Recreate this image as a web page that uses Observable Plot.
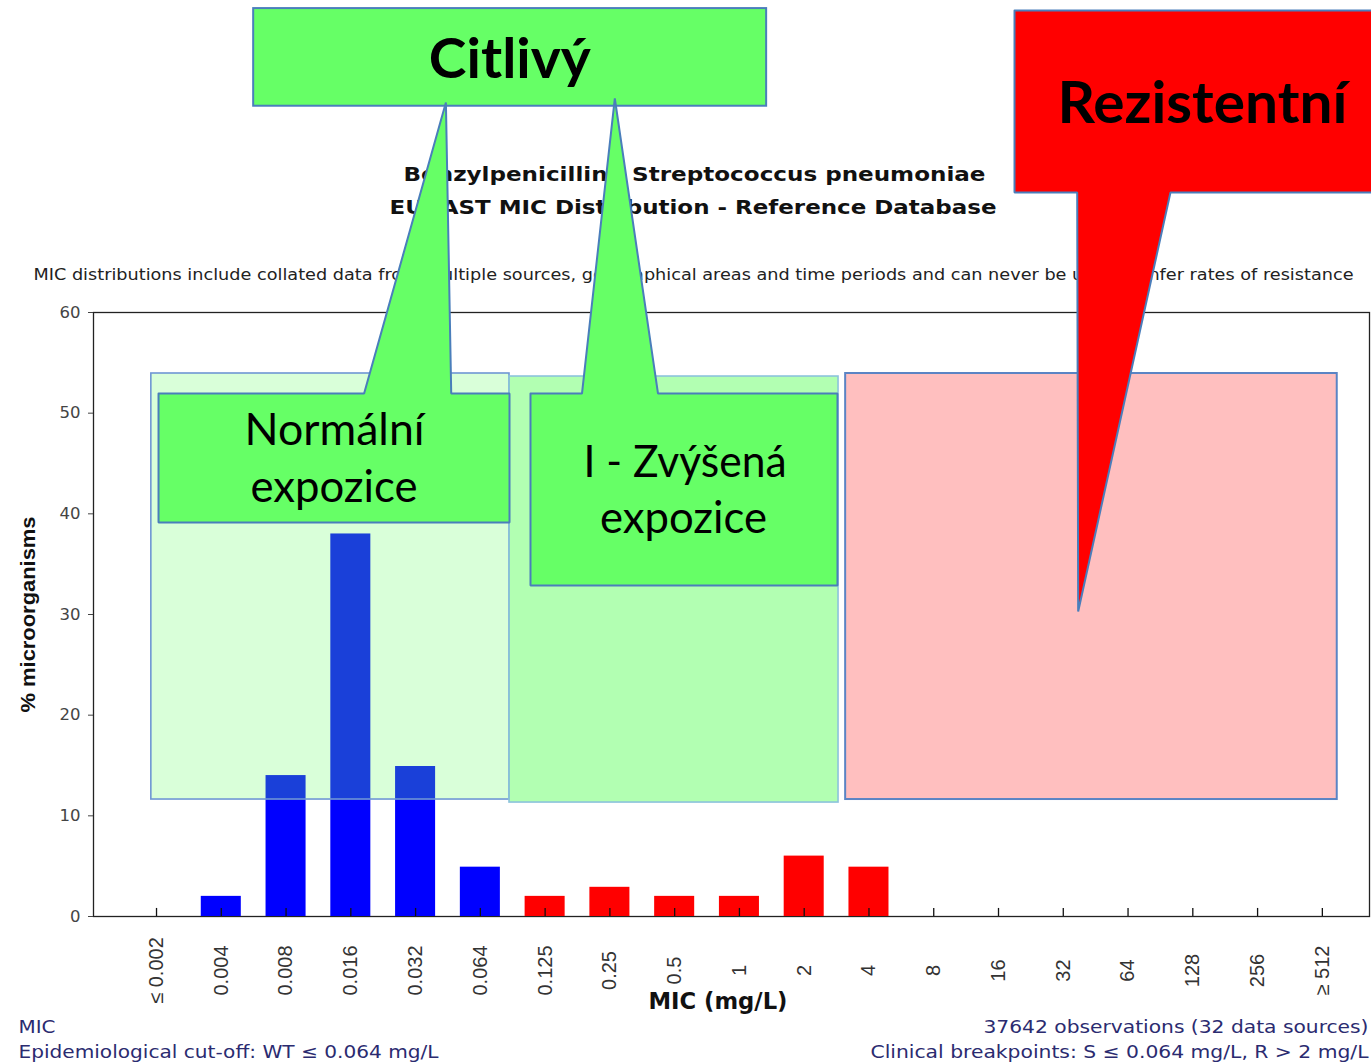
<!DOCTYPE html>
<html><head><meta charset="utf-8">
<script src="https://cdn.jsdelivr.net/npm/d3@7"></script>
<script src="https://cdn.jsdelivr.net/npm/@observablehq/plot@0.6"></script>
<style>html,body{margin:0;padding:0;background:#fff;overflow:hidden}</style>
</head><body><div id="chart"></div>
<script>
// ---- data ----
const categories = ["≤ 0.002","0.004","0.008","0.016","0.032","0.064","0.125","0.25","0.5","1","2","4","8","16","32","64","128","256","≥ 512"];
const percentages = [0, 2.0, 14.0, 38.0, 14.9, 4.9, 2.0, 2.9, 2.0, 2.0, 6.0, 4.9, 0, 0, 0, 0, 0, 0, 0];
const yTicks = [0, 10, 20, 30, 40, 50, 60];
const ecoff = "0.064";
const titleLines = ["Benzylpenicillin / Streptococcus pneumoniae", "EUCAST MIC Distribution - Reference Database"];
const subtitle = "MIC distributions include collated data from multiple sources, geographical areas and time periods and can never be used to infer rates of resistance";
const xLabel = "MIC (mg/L)";
const yLabel = "% microorganisms";
const footLeft = ["MIC", "Epidemiological cut-off: WT ≤ 0.064 mg/L"];
const footRight = ["37642 observations (32 data sources)", "Clinical breakpoints: S ≤ 0.064 mg/L, R > 2 mg/L"];
const calloutTexts = ["Citlivý", "Rezistentní", "Normální", "expozice", "I - Zvýšená", "expozice"];

// ---- annotation geometry (x in category-index units, y in % units) ----
const zoneS = {x1: -0.08, x2: 5.45, y1: 11.62, y2: 53.94};
const zoneI = {x1: 5.45, x2: 10.53, y1: 11.32, y2: 53.64};
const zoneR = {x1: 10.64, x2: 18.23, y1: 11.62, y2: 53.94};
const boxCitlivy = {x1: 1.50, x2: 9.42, y1: 80.49, y2: 90.19};
const calloutNormal = [[0.031,51.95],[3.205,51.95],[4.468,80.86],[4.55,51.95],[5.45,51.95],[5.45,39.14],[0.031,39.14],[0.031,51.95]];
const calloutZvysena = [[5.774,51.95],[6.569,51.95],[7.076,81.26],[7.743,51.95],[10.514,51.95],[10.514,32.88],[5.774,32.88],[5.774,51.95]];
const calloutRezist = [[13.247,90.0],[18.9,90.0],[18.9,71.92],[15.655,71.92],[14.23,30.30],[14.215,71.92],[13.247,71.92],[13.247,90.0]];
const labelPos = [[5.455,83.34],[16.149,78.87],[2.748,46.8],[2.74,41.13],[8.16,43.61],[8.137,38.05]];

const rows = categories.map((c, i) => ({i, category: c, value: percentages[i]}));
const ecoffIndex = categories.indexOf(ecoff);
const idx = categories.map((c, i) => i);

const calloutStroke = "#4a7ebb";
const boldLato = {fontFamily: "Lato", fontWeight: "bold", fill: "black", textAnchor: "middle", lineAnchor: "bottom"};
const regLato = {fontFamily: "Lato", fill: "black", textAnchor: "middle", lineAnchor: "bottom", fontSize: 44};
const footStyle = {fontFamily: "DejaVu Sans", fontSize: 17.5, fill: "#2b2b70", lineAnchor: "bottom"};

const chart = Plot.plot({
  width: 1371, height: 1063,
  marginLeft: 93, marginRight: 2, marginTop: 312, marginBottom: 147,
  style: {background: "white", overflow: "hidden"},
  x: {domain: [-0.973, 18.728], axis: null},
  y: {domain: [0, 60]},
  marks: [
    Plot.frame({stroke: "#222", strokeWidth: 1.3}),
    Plot.rectY(rows, {x1: d => d.i - 0.309, x2: d => d.i + 0.309, y: "value",
      fill: d => d.i <= ecoffIndex ? "#0000ff" : "#ff0000"}),
    Plot.ruleX(idx, {x: d => d, y1: 0, y2: 0.8, stroke: "#111", strokeWidth: 1.3}),
    Plot.axisY(yTicks, {tickSize: 5, tickPadding: 8, fontSize: 16.5, fontFamily: "DejaVu Sans", color: "#444", label: null}),
    Plot.text(categories, {x: (d, i) => i, text: d => d, frameAnchor: "bottom", dy: 54, rotate: -90,
      textAnchor: "middle", lineAnchor: "middle", fontFamily: "Liberation Sans", fontSize: 20, fill: "#333"}),
    Plot.text([xLabel], {text: d => d, frameAnchor: "bottom", dx: -13.5, dy: 92, lineAnchor: "bottom",
      fontFamily: "DejaVu Sans", fontWeight: "bold", fontSize: 22.5, fill: "#111"}),
    Plot.text([yLabel], {text: d => d, frameAnchor: "left", dx: -65, rotate: -90, textAnchor: "middle", lineAnchor: "middle",
      fontFamily: "Liberation Sans", fontWeight: "bold", fontSize: 20, fill: "#111"}),
    Plot.text([titleLines[0]], {text: d => d, frameAnchor: "top", dx: -37, dy: -132, lineAnchor: "bottom",
      fontFamily: "DejaVu Sans", fontWeight: "bold", fontSize: 19.5, fill: "#111"}),
    Plot.text([titleLines[1]], {text: d => d, frameAnchor: "top", dx: -38.5, dy: -99, lineAnchor: "bottom",
      fontFamily: "DejaVu Sans", fontWeight: "bold", fontSize: 19.5, fill: "#111"}),
    Plot.text([subtitle], {text: d => d, frameAnchor: "top", dx: -38, dy: -33, lineAnchor: "bottom",
      fontFamily: "DejaVu Sans", fontSize: 15, fill: "#222"}),
    Plot.text([footLeft[0]], {text: d => d, frameAnchor: "bottom-left", dx: -75, dy: 116, textAnchor: "start", ...footStyle}),
    Plot.text([footLeft[1]], {text: d => d, frameAnchor: "bottom-left", dx: -75, dy: 141, textAnchor: "start", ...footStyle}),
    Plot.text([footRight[0]], {text: d => d, frameAnchor: "bottom-right", dx: -1, dy: 116, textAnchor: "end", ...footStyle}),
    Plot.text([footRight[1]], {text: d => d, frameAnchor: "bottom-right", dx: -1, dy: 141, textAnchor: "end", ...footStyle}),
    // translucent zones
    Plot.rect([zoneS], {x1: "x1", x2: "x2", y1: "y1", y2: "y2", fill: "#66ff66", fillOpacity: 0.25, stroke: "#6f97d4", strokeWidth: 1.6}),
    Plot.rect([zoneI], {x1: "x1", x2: "x2", y1: "y1", y2: "y2", fill: "#66ff66", fillOpacity: 0.5, stroke: "#8cc3dc", strokeWidth: 1.6}),
    Plot.rect([zoneR], {x1: "x1", x2: "x2", y1: "y1", y2: "y2", fill: "#ff0000", fillOpacity: 0.25, stroke: "#5b84c4", strokeWidth: 2}),
    // callouts
    Plot.rect([boxCitlivy], {x1: "x1", x2: "x2", y1: "y1", y2: "y2", fill: "#66ff66", stroke: calloutStroke, strokeWidth: 2}),
    Plot.line(calloutNormal, {x: d => d[0], y: d => d[1], fill: "#66ff66", stroke: calloutStroke, strokeWidth: 2, strokeLinejoin: "miter"}),
    Plot.line(calloutZvysena, {x: d => d[0], y: d => d[1], fill: "#66ff66", stroke: calloutStroke, strokeWidth: 2, strokeLinejoin: "miter"}),
    Plot.line(calloutRezist, {x: d => d[0], y: d => d[1], fill: "#ff0000", stroke: calloutStroke, strokeWidth: 2, strokeLinejoin: "miter"}),
    Plot.text([0], {x: () => labelPos[0][0], y: () => labelPos[0][1], text: () => calloutTexts[0], ...boldLato, fontSize: 56}),
    Plot.text([1], {x: () => labelPos[1][0], y: () => labelPos[1][1], text: () => calloutTexts[1], ...boldLato, fontSize: 57}),
    Plot.text([2, 3, 4, 5], {x: d => labelPos[d][0], y: d => labelPos[d][1], text: d => calloutTexts[d], ...regLato})
  ]
});

// fit text widths to the reference layout
const fits = new Map([
  [titleLines[0], 582], [titleLines[1], 607], [subtitle, 1320],
  [xLabel, 139], [yLabel, 196],
  [footLeft[0], 37], [footLeft[1], 420], [footRight[0], 385], [footRight[1], 498],
  ["Citlivý", 162], ["Rezistentní", 290], ["Normální", 180], ["I - Zvýšená", 203], ["expozice", 167]
]);
chart.querySelectorAll("text").forEach(t => {
  const w = fits.get(t.textContent);
  if (w) { t.setAttribute("textLength", w); t.setAttribute("lengthAdjust", "spacingAndGlyphs"); }
});
document.getElementById("chart").append(chart);
</script>
</body></html>
